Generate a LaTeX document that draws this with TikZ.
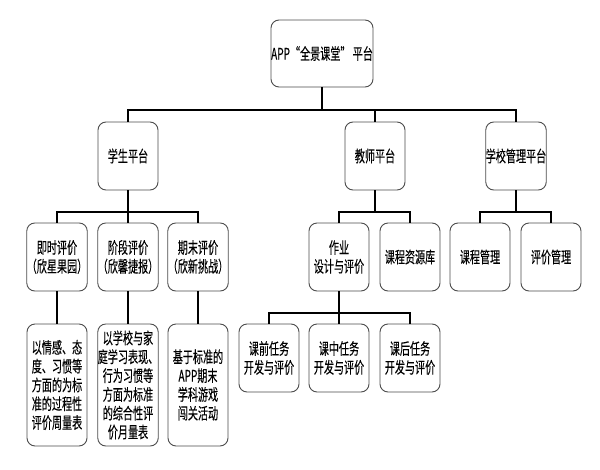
\documentclass[tikz,border=0pt]{standalone}
\usepackage{fontspec}
\newfontfamily\cjk[FakeStretch=0.63,FakeBold=0.15]{Noto Sans CJK SC}
\tikzset{
  box/.style={draw=black!70, line width=0.9pt, rounded corners=8pt, fill=white,
    inner sep=0pt, align=center, font=\cjk\fontsize{16}{18.8}\selectfont,
    minimum width=60pt, minimum height=68pt},
  tall/.style={minimum height=122pt},
  conn/.style={line width=2pt, black},
}
\begin{document}
\begin{tikzpicture}[x=1pt,y=-1pt]
\useasboundingbox (0,0) rectangle (600,469);
% level 0
\node[box, minimum width=102pt, minimum height=67pt] (root) at (322,53.5) {APP“全景课堂” 平台};
% level 1
\node[box] (stu) at (128,156) {学生平台};
\node[box] (tea) at (375,156) {教师平台};
\node[box] (sch) at (516,156) {学校管理平台};
% level 2
\node[box] (j1) at (57,257) {即时评价\\（欣星果园）};
\node[box] (j2) at (128,257) {阶段评价\\（欣馨捷报）};
\node[box] (j3) at (198,257) {期末评价\\（欣新挑战）};
\node[box] (zy) at (339,257) {作业\\设计与评价};
\node[box] (zk) at (410,257) {课程资源库};
\node[box] (kc) at (480,257) {课程管理};
\node[box] (pj) at (551,257) {评价管理};
% level 3 student
\node[box, tall] (s1) at (57,385) {以情感、态\\度、习惯等\\方面的为标\\准的过程性\\评价周量表};
\node[box, tall] (s2) at (128,385) {以学校与家\\庭学习表现、\\行为习惯等\\方面为标准\\的综合性评\\价月量表};
\node[box, tall] (s3) at (198,385) {基于标准的\\APP期末\\学科游戏\\闯关活动};
% level 3 teacher
\node[box] (t1) at (269,358) {课前任务\\开发与评价};
\node[box] (t2) at (339,358) {课中任务\\开发与评价};
\node[box] (t3) at (410,358) {课后任务\\开发与评价};
% connectors
\coordinate (b1) at (322,110);
\coordinate (b2) at (128,212);
\coordinate (b3) at (375,212);
\coordinate (b4) at (516,212);
\coordinate (b5) at (339,313);
\draw[conn] (root.south) -- (b1) -| (stu.north);
\draw[conn] (b1) -| (tea.north);
\draw[conn] (b1) -| (sch.north);
\draw[conn] (stu.south) -- (b2) -| (j1.north);
\draw[conn] (b2) -| (j3.north);
\draw[conn] (b2) -- (j2.north);
\draw[conn] (tea.south) -- (b3) -| (zy.north);
\draw[conn] (b3) -| (zk.north);
\draw[conn] (sch.south) -- (b4) -| (kc.north);
\draw[conn] (b4) -| (pj.north);
\draw[conn] (zy.south) -- (b5) -| (t1.north);
\draw[conn] (b5) -| (t3.north);
\draw[conn] (b5) -- (t2.north);
\draw[conn] (j1.south) -- (s1.north);
\draw[conn] (j2.south) -- (s2.north);
\draw[conn] (j3.south) -- (s3.north);
\end{tikzpicture}
\end{document}
